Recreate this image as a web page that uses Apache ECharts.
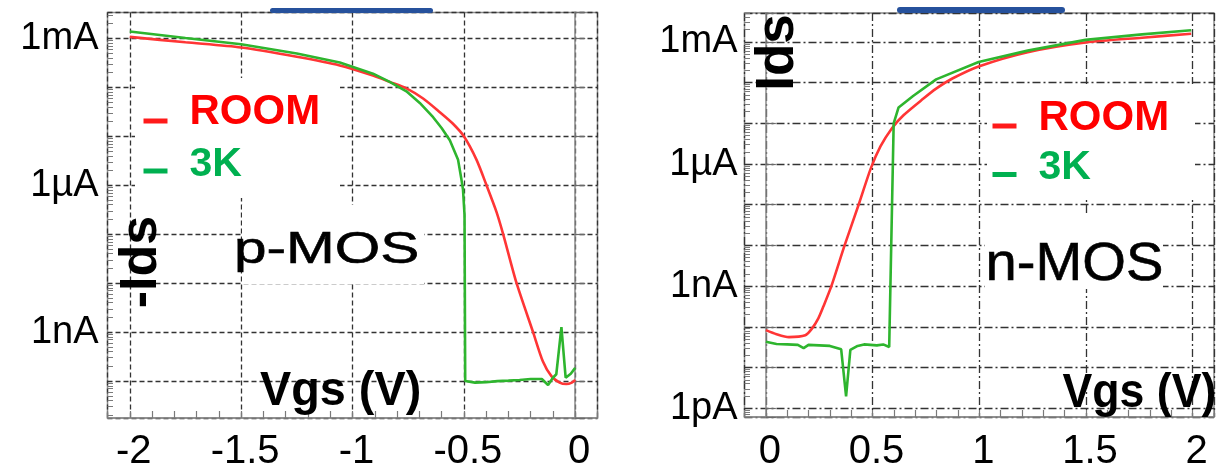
<!DOCTYPE html>
<html>
<head>
<meta charset="utf-8">
<script src="https://cdn.jsdelivr.net/npm/echarts@6/dist/echarts.min.js"></script>
<style>
  html, body { margin: 0; padding: 0; background: #ffffff; }
  #chart { width: 1217px; height: 472px; }
</style>
</head>
<body>
<div id="chart"></div>
<script>
// p-MOS transfer characteristics: Vgs (V) against -Ids (A)
const pmosVgsRoom = [-2.0, -1.75, -1.5, -1.25, -1.057, -0.908, -0.833, -0.758, -0.683, -0.608, -0.55, -0.5,
  -0.443, -0.399, -0.354, -0.324, -0.264, -0.19, -0.145, -0.107, -0.07, -0.04, -0.015, 0.0];
const pmosIdsRoom = [1.07e-3, 8.3e-4, 6.5e-4, 4.2e-4, 2.8e-4, 1.74e-4, 1.29e-4, 9.5e-5, 5.9e-5, 3.1e-5, 1.82e-5, 1.0e-5,
  3.3e-6, 1.02e-6, 2.9e-7, 1.02e-7, 1.02e-8, 1.02e-9, 2.5e-10, 1.26e-10, 9.3e-11, 8.7e-11, 9.3e-11, 1.05e-10];

const pmosVgs3K = [-2.0, -1.75, -1.5, -1.25, -1.057, -0.908, -0.833, -0.758, -0.698, -0.638, -0.6, -0.563,
  -0.526, -0.511, -0.504, -0.497, -0.494, -0.45, -0.4, -0.35, -0.3, -0.25, -0.2, -0.15,
  -0.122, -0.1, -0.085, -0.062, -0.043, -0.02, 0.0];
const pmosIds3K = [1.38e-3, 1.02e-3, 7.6e-4, 4.9e-4, 3.2e-4, 1.9e-4, 1.29e-4, 8.3e-5, 4.8e-5, 2.45e-5, 1.48e-5, 8.3e-6,
  3.3e-6, 1.32e-6, 8.3e-7, 2.5e-7, 1.0e-10, 9.3e-11, 9.5e-11, 1.0e-10, 1.02e-10, 1.05e-10, 1.1e-10, 1.1e-10,
  8.3e-11, 1.17e-10, 1.38e-10, 1.26e-9, 1.17e-10, 1.41e-10, 1.86e-10];

// n-MOS transfer characteristics: Vgs (V) against Ids (A)
const nmosVgsRoom = [0.0, 0.05, 0.108, 0.185, 0.215, 0.246, 0.27, 0.307, 0.369, 0.438, 0.491, 0.537,
  0.591, 0.645, 0.737, 0.798, 0.874, 0.997, 1.227, 1.498, 1.763, 1.993];
const nmosIdsRoom = [8.3e-11, 6.6e-11, 5.6e-11, 6.2e-11, 8.9e-11, 1.62e-10, 3.2e-10, 1.0e-9, 1.0e-8, 1.12e-7, 7.6e-7, 2.7e-6,
  7.6e-6, 1.58e-5, 4.0e-5, 7.1e-5, 1.26e-4, 2.5e-4, 5.6e-4, 9.7e-4, 1.27e-3, 1.58e-3];

const nmosVgs3K = [0.0, 0.05, 0.1, 0.15, 0.177, 0.2, 0.25, 0.3, 0.353, 0.376, 0.396, 0.43,
  0.46, 0.52, 0.55, 0.578, 0.599, 0.622, 0.69, 0.798, 0.997, 1.227, 1.498, 1.763, 1.993];
const nmosIds3K = [4.3e-11, 3.8e-11, 3.7e-11, 3.6e-11, 3.0e-11, 3.6e-11, 3.5e-11, 3.4e-11, 2.8e-11, 1.95e-12, 2.7e-11, 3.4e-11,
  3.7e-11, 3.5e-11, 3.7e-11, 3.2e-11, 1.0e-5, 2.45e-5, 4.7e-5, 1.2e-4, 3.2e-4, 6.1e-4, 1.12e-3, 1.53e-3, 1.94e-3];

// Axis tick labels
const seriesNames = ['ROOM', '3K'];
const pmosVgsTicks = [-2, -1.5, -1, -0.5, 0];
const nmosVgsTicks = [0, 0.5, 1, 1.5, 2];
const currentDecadeLabels = { '-3': '1mA', '-6': '1\u00b5A', '-9': '1nA', '-12': '1pA' };

const FONT = '"Liberation Sans", Arial, Helvetica, sans-serif';
const ROOM_LINE = '#ff3535';
const COLD_LINE = '#2eb52e';
const ROOM_TEXT = '#ff0000';
const COLD_TEXT = '#00b050';
const FRAME = '#8a8a8a';

function pairs(xs, ys) {
  return xs.map((x, i) => [x, ys[i]]);
}

function decadeLabel(v) {
  const e = Math.log10(v);
  const r = Math.round(e);
  if (Math.abs(e - r) > 1e-6) return '';
  return currentDecadeLabels[String(r)] || '';
}

function vgsLabel(ticks) {
  return function (v) {
    for (const t of ticks) {
      if (Math.abs(v - t) < 1e-6) return String(t);
    }
    return '';
  };
}

// log-spaced minor ticks (2..9 x 10^n) for the current axes
function minorLogTicks(lo, hi) {
  const out = [];
  for (let n = lo; n <= hi; n++) {
    for (let k = 2; k <= 9; k++) out.push(Number((k * Math.pow(10, n)).toPrecision(3)));
  }
  return out;
}

const panels = [
  {
    grid: { left: 107.5, top: 12.5, width: 490, height: 415.5 },
    xRange: [-2.1, 0.1],
    yExp: [-10.754, -2.472],
    xTicks: pmosVgsTicks,
    splitType: [5, 3],
    room: pairs(pmosVgsRoom, pmosIdsRoom),
    cold: pairs(pmosVgs3K, pmosIds3K),
    yLabelMargin: 9,
    xLabelMargin: 14
  },
  {
    grid: { left: 744.5, top: 13, width: 478.5, height: 415 },
    xRange: [-0.1, 2.1],
    yExp: [-12.215, -2.29],
    xTicks: nmosVgsTicks,
    splitType: [8, 3, 2, 3],
    room: pairs(nmosVgsRoom, nmosIdsRoom),
    cold: pairs(nmosVgs3K, nmosIds3K),
    yLabelMargin: 7,
    xLabelMargin: 15
  }
];

const grids = [];
const xAxes = [];
const yAxes = [];
const series = [];

panels.forEach((p, i) => {
  grids.push(Object.assign({
    show: true, borderColor: FRAME, borderWidth: 1.5, containLabel: false
  }, p.grid));

  xAxes.push({
    type: 'value', gridIndex: i,
    min: p.xRange[0], max: p.xRange[1], splitNumber: 5,
    axisLine: { show: true, lineStyle: { color: FRAME, width: 1.5 } },
    axisTick: { show: true, inside: true, length: 7, lineStyle: { color: '#7a7a7a', width: 1.2 } },
    minorTick: { show: true, splitNumber: 5, length: 7, lineStyle: { color: '#7a7a7a', width: 1.2 } },
    splitLine: { show: true, lineStyle: { color: '#333333', width: 1.3, type: p.splitType } },
    axisLabel: {
      formatter: vgsLabel(p.xTicks), color: '#000', fontFamily: FONT, fontSize: 40,
      margin: p.xLabelMargin, padding: [0, 0, 0, 8]
    }
  });

  const yMin = Math.pow(10, p.yExp[0]);
  const yMax = Math.pow(10, p.yExp[1]);
  yAxes.push({
    type: 'log', logBase: 10, gridIndex: i, position: 'left',
    min: yMin, max: yMax, splitNumber: 10,
    axisLine: { show: true, lineStyle: { color: FRAME, width: 1.5 } },
    axisTick: { show: true, inside: true, length: 10, lineStyle: { color: '#6a6a6a', width: 1.2 } },
    splitLine: { show: true, lineStyle: { color: '#333333', width: 1.3, type: p.splitType } },
    axisLabel: {
      formatter: decadeLabel, color: '#000', fontFamily: FONT, fontSize: 38, margin: p.yLabelMargin
    }
  });
  yAxes.push({
    type: 'log', logBase: 10, gridIndex: i, position: 'left',
    min: yMin, max: yMax,
    axisLine: { show: false },
    axisTick: {
      show: true, inside: true, length: 5.5,
      lineStyle: { color: '#7a7a7a', width: 1 },
      customValues: minorLogTicks(Math.floor(p.yExp[0]), Math.ceil(p.yExp[1]))
    },
    axisLabel: { show: false },
    splitLine: { show: false }
  });

  series.push({
    name: seriesNames[0], type: 'line', xAxisIndex: i, yAxisIndex: 2 * i,
    data: p.room, showSymbol: false, symbol: 'none',
    smooth: 0.25,
    lineStyle: { color: ROOM_LINE, width: 2.6 }, itemStyle: { color: ROOM_LINE },
    z: 3
  });
  series.push({
    name: seriesNames[1], type: 'line', xAxisIndex: i, yAxisIndex: 2 * i,
    data: p.cold, showSymbol: false, symbol: 'none',
    lineStyle: { color: COLD_LINE, width: 2.6 }, itemStyle: { color: COLD_LINE },
    z: 3
  });
});

function label(text, x, y, size, opts) {
  const o = opts || {};
  const style = {
    text: text,
    font: (o.bold ? 'bold ' : '') + size + 'px ' + FONT,
    fill: o.color || '#000000',
    align: o.align || 'left', verticalAlign: 'middle',
    textAlign: o.align || 'left', textVerticalAlign: 'middle'
  };
  if (o.weight) {
    style.stroke = o.color || '#000000';
    style.lineWidth = o.weight;
  }
  return {
    type: 'text', x: x, y: y, z: 20,
    rotation: o.rotation || 0,
    scaleX: o.scaleX || 1,
    style: style
  };
}

function whiteBox(x, y, w, h) {
  return { type: 'rect', z: 10, shape: { x: x, y: y, width: w, height: h }, style: { fill: '#ffffff' } };
}

function dash(x, y, color) {
  return { type: 'rect', z: 20, shape: { x: x, y: y, width: 24, height: 5 }, style: { fill: color } };
}

function blueTab(x, y, w, h) {
  return { type: 'rect', z: 30, shape: { x: x, y: y, width: w, height: h, r: 3 }, style: { fill: '#26519c' } };
}

// key block: white panel, colour dashes and series names
function keyBlock(x, y, w, h, dashX, roomDashY, coldDashY, textX, roomY, coldY) {
  return [
    whiteBox(x, y, w, h),
    dash(dashX, roomDashY, '#ff1a1a'),
    dash(dashX, coldDashY, COLD_TEXT),
    label(seriesNames[0], textX, roomY, 42, { bold: true, color: ROOM_TEXT }),
    label(seriesNames[1], textX, coldY, 41, { bold: true, color: COLD_TEXT })
  ];
}

const chart = echarts.init(document.getElementById('chart'), null, { renderer: 'canvas' });
chart.setOption({
  animation: false,
  backgroundColor: '#ffffff',
  grid: grids,
  xAxis: xAxes,
  yAxis: yAxes,
  series: series,
  graphic: [].concat(
    keyBlock(135, 78, 205, 120, 143.5, 118.5, 168.5, 189.5, 112.5, 165),
    keyBlock(987, 84, 208, 116, 992.5, 123.5, 172, 1038.5, 118.5, 168),
    [
      whiteBox(242, 205, 182, 79),
      whiteBox(985, 216, 178, 73),
      label('p-MOS', 234, 251, 44, { scaleX: 1.33, weight: 0.6 }),
      label('n-MOS', 985.5, 265, 53, { scaleX: 1.06, weight: 0.6 }),
      label('Vgs (V)', 260, 391.5, 48, { bold: true, scaleX: 0.975 }),
      label('Vgs (V)', 1062.5, 393.5, 47.5, { bold: true, scaleX: 0.94 }),
      label('-Ids', 142, 262, 52, { bold: true, align: 'center', rotation: Math.PI / 2 }),
      label('Ids', 778.5, 52.5, 53, { bold: true, align: 'center', rotation: Math.PI / 2 }),
      blueTab(270, 8, 163, 5),
      blueTab(897, 7, 168, 6)
    ]
  )
});
</script>
</body>
</html>
